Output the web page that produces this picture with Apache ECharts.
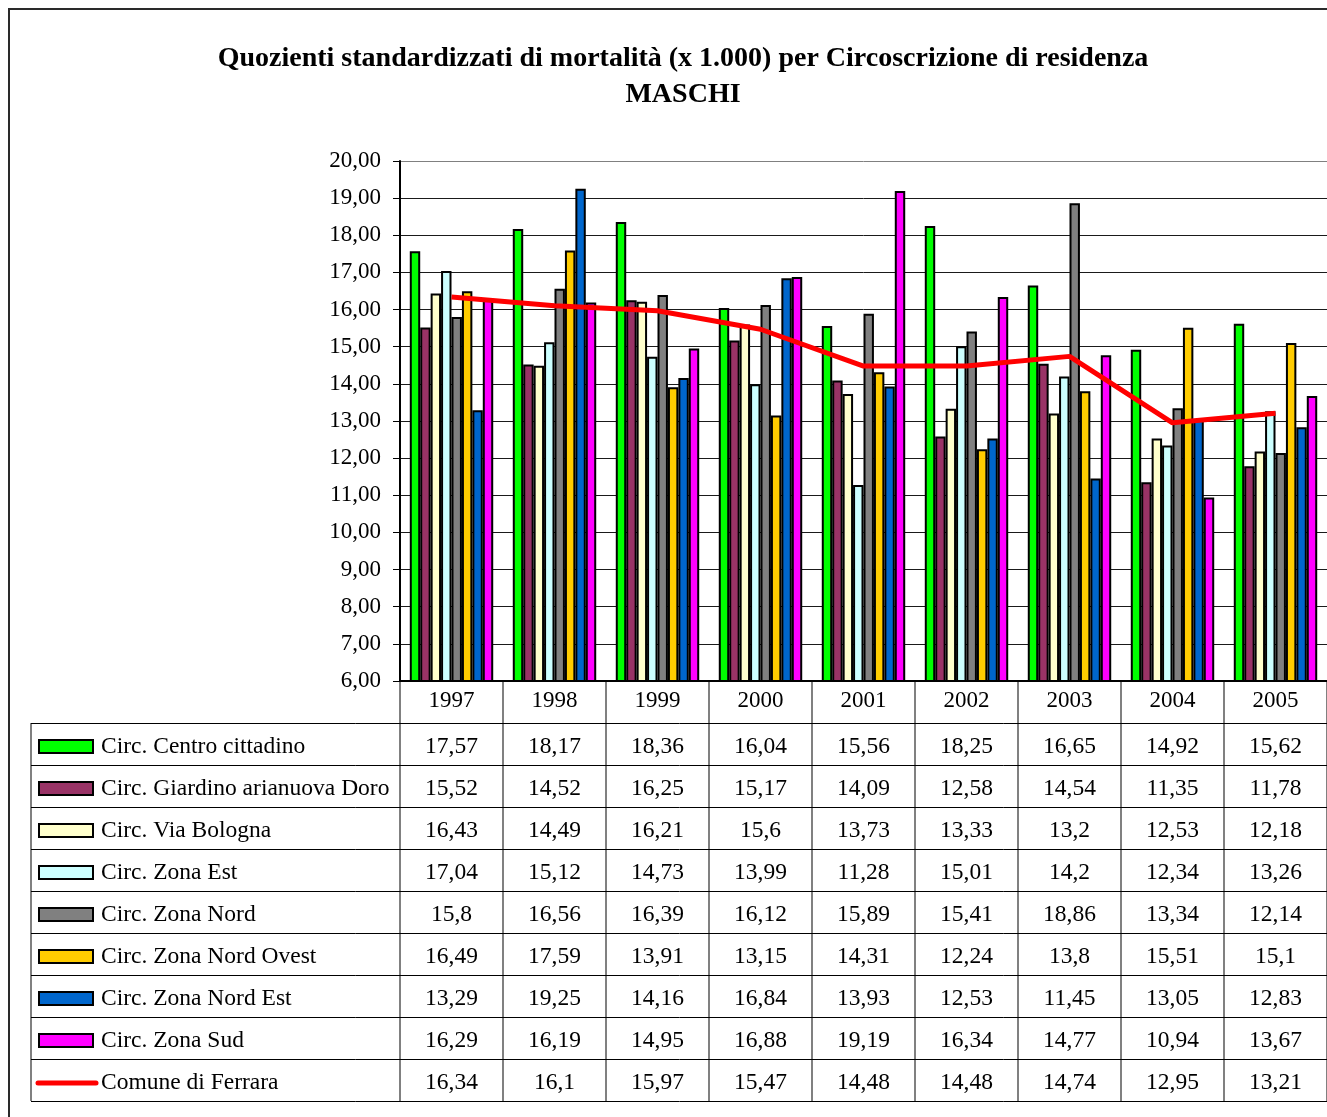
<!DOCTYPE html>
<html>
<head>
<meta charset="utf-8">
<script src="https://cdn.jsdelivr.net/npm/echarts@6/dist/echarts.min.js"></script>
<style>
  html, body { margin: 0; padding: 0; background: #fff; }
  #chart { width: 1327px; height: 1117px; }
</style>
</head>
<body>
<div id="chart"></div>
<script>
// Anni (categorie)
const years = ['1997', '1998', '1999', '2000', '2001', '2002', '2003', '2004', '2005'];

// Quozienti standardizzati per circoscrizione
const centroCittadino   = [17.57, 18.17, 18.36, 16.04, 15.56, 18.25, 16.65, 14.92, 15.62];
const giardinoArianuova = [15.52, 14.52, 16.25, 15.17, 14.09, 12.58, 14.54, 11.35, 11.78];
const viaBologna        = [16.43, 14.49, 16.21, 15.6, 13.73, 13.33, 13.2, 12.53, 12.18];
const zonaEst           = [17.04, 15.12, 14.73, 13.99, 11.28, 15.01, 14.2, 12.34, 13.26];
const zonaNord          = [15.8, 16.56, 16.39, 16.12, 15.89, 15.41, 18.86, 13.34, 12.14];
const zonaNordOvest     = [16.49, 17.59, 13.91, 13.15, 14.31, 12.24, 13.8, 15.51, 15.1];
const zonaNordEst       = [13.29, 19.25, 14.16, 16.84, 13.93, 12.53, 11.45, 13.05, 12.83];
const zonaSud           = [16.29, 16.19, 14.95, 16.88, 19.19, 16.34, 14.77, 10.94, 13.67];
const comuneFerrara     = [16.34, 16.1, 15.97, 15.47, 14.48, 14.48, 14.74, 12.95, 13.21];

const barNames = [
  'Circ. Centro cittadino',
  'Circ. Giardino arianuova Doro',
  'Circ. Via Bologna',
  'Circ. Zona Est',
  'Circ. Zona Nord',
  'Circ. Zona Nord Ovest',
  'Circ. Zona Nord Est',
  'Circ. Zona Sud'
];
const barData = [centroCittadino, giardinoArianuova, viaBologna, zonaEst,
                 zonaNord, zonaNordOvest, zonaNordEst, zonaSud];
const barColors = ['#00FF00', '#993366', '#FFFFCC', '#CCFFFF',
                   '#808080', '#FFCC00', '#0066CC', '#FF00FF'];
const lineName = 'Comune di Ferrara';
const lineColor = '#FF0000';

const FONT = '"Liberation Serif", "Times New Roman", serif';
const fmt = v => String(v).replace('.', ',');

const chart = echarts.init(document.getElementById('chart'), null, { renderer: 'canvas' });

const series = barNames.map((name, i) => ({
  name: name,
  type: 'bar',
  data: barData[i],
  barGap: '0%',
  barCategoryGap: '19%',
  itemStyle: { color: barColors[i], borderColor: '#000', borderWidth: 2 },
  z: 2
}));
series.push({
  name: lineName,
  type: 'line',
  data: comuneFerrara,
  symbol: 'none',
  lineStyle: { color: lineColor, width: 5 },
  z: 5
});

const splitColors = [];
for (let i = 0; i < 14; i++) splitColors.push('#1a1a1a');
splitColors.push('#808080');

chart.setOption({
  animation: false,
  backgroundColor: '#fff',
  title: {
    text: 'Quozienti standardizzati di mortalità (x 1.000) per Circoscrizione di residenza\nMASCHI',
    left: 678,
    top: 36,
    textAlign: 'center',
    textStyle: { fontFamily: FONT, fontWeight: 'bold', fontSize: 28, lineHeight: 36, color: '#000' }
  },
  grid: { left: 400, top: 161, right: 0, bottom: 436, containLabel: false },
  xAxis: {
    type: 'category',
    data: years,
    axisLine: { lineStyle: { color: '#000', width: 2 } },
    axisTick: { show: false },
    axisLabel: { fontFamily: FONT, fontSize: 23, color: '#000', margin: 8 },
    splitLine: { show: false }
  },
  yAxis: {
    type: 'value',
    min: 6,
    max: 20,
    interval: 1,
    axisLine: { show: true, lineStyle: { color: '#000', width: 2 } },
    axisTick: { show: true, length: 7, lineStyle: { color: '#000', width: 1 } },
    axisLabel: {
      fontFamily: FONT, fontSize: 23, color: '#000', margin: 19,
      formatter: v => v.toFixed(2).replace('.', ',')
    },
    splitLine: { show: true, lineStyle: { color: splitColors, width: 1 } }
  },
  series: series
});

// Tabella dati sotto il grafico
function buildTable() {
  const x0 = chart.convertToPixel({ xAxisIndex: 0 }, 0);
  const x1 = chart.convertToPixel({ xAxisIndex: 0 }, 1);
  const step = x1 - x0;
  const left = x0 - step / 2;
  const axisY = chart.convertToPixel({ yAxisIndex: 0 }, 6);
  const rowH = 42;
  const tableLeft = 31;
  const firstRow = axisY + rowH;
  const nRows = barNames.length + 1;
  const bottom = firstRow + nRows * rowH;
  const right = left + step * years.length;
  const els = [];
  const cellFont = '23.5px ' + FONT;

  // cornice esterna dell'area grafico
  els.push({ type: 'rect', shape: { x: 9, y: 9, width: 1340, height: 1130 },
             style: { fill: null, stroke: '#2a2a2a', lineWidth: 2 }, silent: true, z: 0 });

  // linee verticali grigie (divisori colonne)
  for (let c = 0; c <= years.length; c++) {
    const xx = Math.round(left + c * step);
    els.push({ type: 'line', shape: { x1: xx, y1: axisY, x2: xx, y2: bottom },
               style: { stroke: '#808080', lineWidth: 2 }, silent: true });
  }
  els.push({ type: 'line', shape: { x1: tableLeft, y1: firstRow, x2: tableLeft, y2: bottom },
             style: { stroke: '#808080', lineWidth: 2 }, silent: true });

  // linee orizzontali
  for (let r = 0; r <= nRows; r++) {
    const yy = Math.round(firstRow + r * rowH) + 0.5;
    els.push({ type: 'line', shape: { x1: tableLeft, y1: yy, x2: right + 2, y2: yy },
               style: { stroke: '#000', lineWidth: 1 }, silent: true });
  }

  const names = barNames.concat([lineName]);
  const rows = barData.concat([comuneFerrara]);
  names.forEach((name, r) => {
    const cy = firstRow + r * rowH + rowH / 2 + 3;
    if (r < barNames.length) {
      els.push({ type: 'rect', shape: { x: 39, y: cy - 7, width: 54, height: 13 },
                 style: { fill: barColors[r], stroke: '#000', lineWidth: 2 }, silent: true });
    } else {
      els.push({ type: 'line', shape: { x1: 38, y1: cy, x2: 96, y2: cy },
                 style: { stroke: lineColor, lineWidth: 5, lineCap: 'round' }, silent: true });
    }
    els.push({ type: 'text', x: 101, y: cy,
               style: { text: name, font: cellFont, fill: '#000',
                        textAlign: 'left', textVerticalAlign: 'middle' }, silent: true });
    rows[r].forEach((v, c) => {
      const cx = chart.convertToPixel({ xAxisIndex: 0 }, c);
      els.push({ type: 'text', x: cx, y: cy,
                 style: { text: fmt(v), font: cellFont, fill: '#000',
                          textAlign: 'center', textVerticalAlign: 'middle' }, silent: true });
    });
  });

  chart.setOption({ graphic: { elements: els } });
}
buildTable();
</script>
</body>
</html>
